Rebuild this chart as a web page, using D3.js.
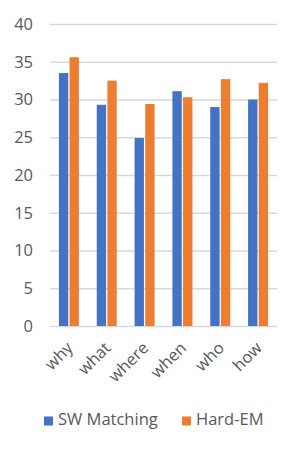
<!DOCTYPE html>
<html><head><meta charset="utf-8">
<script src="https://cdn.jsdelivr.net/npm/d3@7"></script>
<style>body{margin:0;background:#fff}svg{display:block}text{font-family:"Open Sans",sans-serif;fill:#595959}</style>
</head><body><svg id="c" width="302" height="452"></svg>
<script>
const categories = ["why","what","where","when","who","how"];
const swMatching = [33.5,29.3,24.9,31.1,29.0,30.0];
const hardEM = [35.6,32.5,29.4,30.3,32.7,32.2];
const seriesNames = ["SW Matching","Hard-EM"];
const colors = ["#4472C4","#ED7D31"];
const yTicks = [0,5,10,15,20,25,30,35,40];

(function(){
const svg = d3.select("#c");
const mL = 50, mR = 277, mT = 24, mB = 326;
const fs = 16.5;
const x = d3.scaleBand().domain(categories).range([mL,mR]).paddingInner(0).paddingOuter(0);
const y = d3.scaleLinear().domain([0,40]).range([mB,mT]);
const inner = d3.scaleBand().domain([0,1]).range([x.bandwidth()/2-10, x.bandwidth()/2+10]).paddingInner(0.12);

const yAxis = d3.axisLeft(y).tickValues(yTicks).tickSize(-(mR-mL)).tickPadding(17);
const gy = svg.append("g").attr("transform",`translate(${mL},0)`).call(yAxis);
gy.select(".domain").remove();
gy.selectAll(".tick line").attr("stroke","#d9d9d9").attr("stroke-width",1.5);
gy.selectAll(".tick text").attr("font-size",fs).style("fill","#595959");

const data = [swMatching, hardEM];
data.forEach((vals,si)=>{
  svg.append("g").selectAll("rect").data(vals).join("rect")
    .attr("x",(d,i)=>x(categories[i])+inner(si))
    .attr("width",inner.bandwidth())
    .attr("y",d=>y(d))
    .attr("height",d=>y(0)-y(d))
    .attr("fill",colors[si]);
});

const xAxis = d3.axisBottom(x).tickSize(0).tickPadding(0);
const gx = svg.append("g").attr("transform",`translate(0,${mB})`).call(xAxis);
gx.select(".domain").remove();
gx.selectAll(".tick text")
  .attr("font-size",fs)
  .attr("text-anchor","end")
  .attr("dy",0)
  .attr("transform","translate(5,23) rotate(-45)")
  .style("fill","#595959");

const legend = svg.append("g").attr("transform","translate(0,425)");
const lx = [44,182];
seriesNames.forEach((n,i)=>{
  legend.append("rect").attr("x",lx[i]).attr("y",-8.5).attr("width",9).attr("height",9).attr("fill",colors[i]);
  legend.append("text").attr("x",lx[i]+14).attr("y",0).attr("font-size",fs).text(n);
});
})();
</script></body></html>
